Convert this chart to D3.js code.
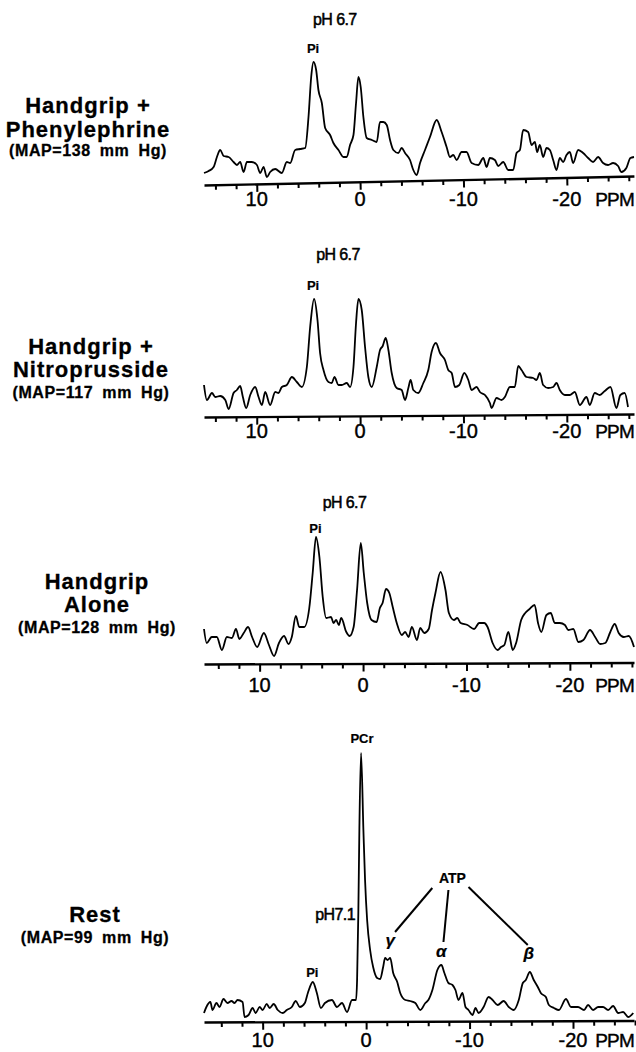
<!DOCTYPE html>
<html>
<head>
<meta charset="utf-8">
<script src="https://cdn.jsdelivr.net/npm/d3@7"></script>
<style>
  body { margin: 0; background: #fff; }
  svg text { font-family: "Liberation Sans", Arial, sans-serif; fill: #000; }
</style>
</head>
<body>
<div id="chart"></div>
<script>
// Spettri 31P: [ppm, intensita']
const phenylephrine = [
  [15.1,12],[14.65,14],[14.17,18],[13.85,28],[13.53,35],[13.2,29],[12.72,28],[12.24,23],[11.92,20],[11.6,23],
  [11.27,13],[10.95,23],[10.47,23],[9.98,20],[9.66,12],[9.34,18],[9.02,8],[8.7,13],[8.21,16],[7.57,12],
  [7.09,23],[6.76,22],[6.28,35],[5.8,36],[5.31,37],[4.99,68],[4.73,108],[4.51,123],[4.25,115],[4.03,95],
  [3.7,82],[3.38,57],[2.9,50],[2.58,42],[2.09,35],[1.61,28],[1.29,28],[0.97,40],[0.64,50],[0.39,82],
  [0.16,108],[-0.06,98],[-0.32,68],[-0.64,47],[-1.13,45],[-1.61,43],[-1.93,63],[-2.25,63],[-2.58,60],[-2.9,45],
  [-3.22,35],[-3.7,32],[-4.02,37],[-4.35,32],[-4.83,25],[-5.15,15],[-5.47,10],[-5.8,22],[-6.28,35],[-6.76,48],
  [-7.41,65],[-7.89,53],[-8.37,38],[-8.69,28],[-9.02,30],[-9.34,25],[-9.82,33],[-10.3,33],[-10.79,22],[-11.43,20],
  [-11.92,27],[-12.24,18],[-12.56,27],[-13.04,25],[-13.36,19],[-13.85,23],[-14.33,15],[-14.81,15],[-15.14,32],[-15.46,35],
  [-15.78,55],[-16.26,53],[-16.59,40],[-16.91,43],[-17.13,33],[-17.39,40],[-17.71,28],[-18.04,37],[-18.36,35],[-18.68,25],
  [-19.0,15],[-19.32,27],[-19.65,23],[-19.97,30],[-20.29,33],[-20.61,22],[-21.1,35],[-21.58,32],[-22.06,27],[-22.54,23],
  [-23.03,28],[-23.51,22],[-23.99,20],[-24.48,22],[-24.96,19],[-25.28,13],[-25.76,17],[-26.15,27],[-26.5,28]
];

const nitroprusside = [
  [15.1,32],[14.82,17],[14.33,24],[14.01,20],[13.53,21],[13.04,17],[12.72,8],[12.24,24],[11.92,27],[11.6,31],
  [11.34,20],[11.02,9],[10.63,22],[10.15,30],[9.82,20],[9.5,12],[9.18,25],[8.7,12],[8.21,25],[7.89,24],
  [7.57,30],[7.09,32],[6.6,40],[6.12,35],[5.64,30],[5.15,50],[4.83,90],[4.45,118],[4.12,97],[3.87,64],
  [3.54,47],[3.06,35],[2.74,34],[2.48,40],[2.09,32],[1.77,32],[1.29,34],[0.97,30],[0.64,50],[0.39,94],
  [0.16,118],[-0.16,107],[-0.48,70],[-0.8,40],[-1.13,30],[-1.61,50],[-1.93,67],[-2.19,71],[-2.48,79],[-2.74,67],
  [-3.06,44],[-3.54,29],[-4.02,27],[-4.35,17],[-4.67,29],[-4.89,37],[-5.15,27],[-5.63,24],[-6.12,34],[-6.6,47],
  [-6.92,65],[-7.34,74],[-7.73,64],[-8.21,57],[-8.53,47],[-8.86,44],[-9.18,30],[-9.6,32],[-10.08,44],[-10.47,37],
  [-10.79,27],[-11.27,30],[-11.59,25],[-12.08,22],[-12.56,14],[-12.72,9],[-13.2,19],[-13.69,17],[-14.01,20],[-14.49,30],
  [-14.97,30],[-15.3,51],[-15.62,47],[-16.1,40],[-16.75,39],[-17.07,37],[-17.39,44],[-17.71,32],[-18.2,29],[-18.68,30],
  [-19.0,34],[-19.32,27],[-19.81,22],[-20.29,22],[-20.77,25],[-21.26,12],[-21.9,20],[-22.22,12],[-22.7,24],[-23.19,22],
  [-23.67,26],[-24.22,30],[-24.8,9],[-25.18,22],[-25.6,24],[-25.92,10]
];

const handgripAlone = [
  [15.38,35],[15.12,21],[14.63,27],[14.14,27],[13.65,14],[13.17,27],[12.68,26],[12.29,35],[11.96,25],[11.54,31],
  [11.12,37],[10.73,27],[10.24,17],[9.59,31],[9.1,19],[8.61,8],[8.13,21],[7.64,28],[7.21,20],[6.89,27],
  [6.5,48],[6.17,37],[5.69,37],[5.2,56],[4.87,91],[4.55,127],[4.22,107],[3.9,67],[3.57,46],[3.09,47],
  [2.86,41],[2.6,44],[2.34,39],[2.11,46],[1.62,32],[1.3,28],[0.91,37],[0.58,74],[0.22,121],[-0.07,91],
  [-0.4,61],[-0.82,44],[-1.31,42],[-1.63,56],[-1.89,61],[-2.22,75],[-2.54,71],[-2.87,57],[-3.26,41],[-3.75,29],
  [-4.07,32],[-4.4,27],[-4.72,37],[-5.21,24],[-5.53,36],[-5.92,31],[-6.35,35],[-6.67,54],[-7.0,71],[-7.49,92],
  [-7.97,74],[-8.3,51],[-8.79,44],[-9.11,46],[-9.44,41],[-10.09,39],[-10.74,35],[-11.23,41],[-11.71,41],[-12.04,37],
  [-12.53,21],[-13.01,14],[-13.34,17],[-13.66,19],[-14.05,32],[-14.48,14],[-14.8,21],[-15.29,44],[-15.68,51],[-16.1,55],
  [-16.59,59],[-16.92,41],[-17.24,32],[-17.73,49],[-18.15,51],[-18.54,41],[-19.03,41],[-19.52,39],[-19.84,34],[-20.33,35],
  [-20.82,22],[-21.31,24],[-21.95,34],[-22.44,27],[-22.93,20],[-23.42,21],[-23.91,32],[-24.33,40],[-24.72,31],[-25.21,27],
  [-25.7,28],[-26.2,17]
];

const rest = [
  [15.67,9],[15.44,15],[15.05,20],[14.85,12],[14.47,19],[14.17,15],[13.79,23],[13.4,19],[13.01,21],[12.72,19],
  [12.43,22],[11.94,20],[11.75,5],[11.36,7],[10.97,14],[10.68,9],[10.29,15],[10.0,12],[9.61,18],[9.32,14],
  [8.93,18],[8.54,12],[8.06,9],[7.67,12],[7.18,15],[6.8,21],[6.41,15],[5.92,19],[5.63,29],[5.15,40],
  [4.76,29],[4.37,14],[3.98,19],[3.3,22],[2.82,15],[2.33,19],[1.84,10],[1.36,22],[0.97,22],[0.87,42],
  [0.75,109],[0.65,192],[0.49,269],[0.26,192],[0.1,142],[-0.1,102],[-0.39,72],[-0.68,55],[-1.07,44],[-1.36,43],
  [-1.65,55],[-1.84,64],[-2.07,62],[-2.33,64],[-2.62,49],[-3.01,40],[-3.3,29],[-3.79,22],[-4.27,21],[-4.76,19],
  [-5.24,12],[-5.73,19],[-6.02,22],[-6.41,32],[-6.89,52],[-7.28,57],[-7.57,49],[-7.96,39],[-8.35,37],[-8.64,32],
  [-8.93,22],[-9.32,29],[-9.61,15],[-9.9,12],[-10.29,7],[-10.58,14],[-10.87,9],[-11.36,15],[-11.84,25],[-12.23,22],
  [-12.72,17],[-13.3,21],[-13.79,15],[-14.27,12],[-14.76,22],[-15.15,39],[-15.44,42],[-15.83,50],[-16.21,42],[-16.6,35],
  [-16.89,29],[-17.38,25],[-17.67,17],[-18.16,14],[-18.64,12],[-19.32,23],[-19.81,15],[-20.49,15],[-21.07,12],[-21.46,17],
  [-21.94,12],[-22.43,15],[-22.91,15],[-23.4,12],[-23.88,16],[-24.37,9],[-24.85,10],[-25.34,5],[-25.83,9]
];

// Assi
const majorTicks = [10, 0, -10, -20];
const minorTicks = d3.range(14, -27, -2);

// Etichette dei pannelli
const titles = [
  ["Handgrip +", "Phenylephrine", "(MAP=138 mm Hg)"],
  ["Handgrip +", "Nitroprusside", "(MAP=117 mm Hg)"],
  ["Handgrip", "Alone", "(MAP=128 mm Hg)"],
  ["Rest", "(MAP=99 mm Hg)"]
];

const width = 636;
const height = 1052;

// Impaginazione dei quattro pannelli
const panels = [
  { data: phenylephrine, domain: [15.1, -26.5], axisY: 185, tilt: -1.19, labelY: 206,
    titleX: 88, titleY: [113, 137, 156],
    notes: [{ t: "pH 6.7", ppm: 4.55, y: 25, cls: "ph", anchor: "start" },
            { t: "Pi", ppm: 4.55, y: 53, cls: "pk", anchor: "middle" }] },
  { data: nitroprusside, domain: [15.1, -26.5], axisY: 417, tilt: -0.4, labelY: 438,
    titleX: 91, titleY: [354, 377, 398],
    notes: [{ t: "pH 6.7", ppm: 4.25, y: 260, cls: "ph", anchor: "start" },
            { t: "Pi", ppm: 4.55, y: 290, cls: "pk", anchor: "middle" }] },
  { data: handgripAlone, domain: [15.38, -26.2], axisY: 664, tilt: -0.2, labelY: 692,
    titleX: 97, titleY: [589, 612, 633],
    notes: [{ t: "pH 6.7", ppm: 3.9, y: 508, cls: "ph", anchor: "start" },
            { t: "Pi", ppm: 4.6, y: 533, cls: "pk", anchor: "middle" }] },
  { data: rest, domain: [15.67, -25.9], axisY: 1022, tilt: -0.2, labelY: 1047,
    titleX: 95, titleY: [922, 943],
    notes: [{ t: "PCr", ppm: 0.4, y: 743, cls: "pk", anchor: "middle" },
            { t: "pH7.1", ppm: 1.07, y: 920, cls: "ph", anchor: "end" },
            { t: "Pi", ppm: 5.2, y: 977, cls: "pk", anchor: "middle" },
            { t: "ATP", ppm: -8.35, y: 883, cls: "atp", anchor: "middle" },
            { t: "γ", ppm: -2.33, y: 946, cls: "greek", anchor: "middle" },
            { t: "α", ppm: -7.28, y: 957, cls: "greek", anchor: "middle" },
            { t: "β", ppm: -15.73, y: 959, cls: "greek", anchor: "middle" }],
    leaders: [[-6.4, 888, -2.8, 932], [-7.96, 890, -7.48, 942], [-9.9, 887, -15.63, 945]] }
];

const svg = d3.select("#chart")
  .append("svg")
  .attr("width", width)
  .attr("height", height);

panels.forEach((p, i) => {
  const g = svg.append("g");

  const x = d3.scaleLinear().domain(p.domain).range([204, 634]);
  const y = d3.scaleLinear().domain([0, 100]).range([p.axisY, p.axisY - 100]);

  // Spettro
  const line = d3.line()
    .x(d => x(d[0]))
    .y(d => y(d[1]))
    .curve(d3.curveMonotoneX);

  g.append("path")
    .datum(p.data)
    .attr("fill", "none")
    .attr("stroke", "#000")
    .attr("stroke-width", 1.8)
    .attr("stroke-linejoin", "round")
    .attr("d", line);

  // Asse ppm (leggermente inclinato come nella stampa)
  const ax = g.append("g")
    .attr("transform", `translate(0,${p.axisY}) rotate(${p.tilt},204,0)`)
    .call(d3.axisBottom(x).tickValues(minorTicks).tickSize(5).tickSizeOuter(0).tickFormat(""));
  ax.select(".domain").attr("stroke-width", 2.4);
  ax.selectAll(".tick line")
    .attr("stroke-width", 2)
    .attr("y2", d => majorTicks.includes(d) ? 8 : 5);

  g.selectAll(".ticklab")
    .data(majorTicks)
    .join("text")
    .attr("class", "ticklab")
    .attr("x", d => x(d))
    .attr("y", p.labelY)
    .attr("text-anchor", "middle")
    .attr("font-size", 20)
    .attr("stroke", "#000")
    .attr("stroke-width", 0.4)
    .text(d => String(d));

  g.append("text")
    .attr("x", 634)
    .attr("y", p.labelY)
    .attr("text-anchor", "end")
    .attr("font-size", 19)
    .attr("letter-spacing", -0.8)
    .attr("stroke", "#000")
    .attr("stroke-width", 0.4)
    .text("PPM");

  // Titolo a sinistra
  g.selectAll(".title")
    .data(titles[i])
    .join("text")
    .attr("class", "title")
    .attr("x", p.titleX)
    .attr("y", (d, j) => p.titleY[j])
    .attr("text-anchor", "middle")
    .attr("font-weight", "bold")
    .attr("font-size", d => d.startsWith("(") ? 16 : 22)
    .attr("letter-spacing", d => d.startsWith("(") ? 0.6 : 1)
    .attr("word-spacing", d => d.startsWith("(") ? 4 : 0)
    .attr("stroke", "#000")
    .attr("stroke-width", 0.3)
    .text(d => d);

  // Annotazioni dei picchi
  const sizes = { ph: 16, pk: 13, atp: 14, greek: 17 };
  g.selectAll(".note")
    .data(p.notes)
    .join("text")
    .attr("class", "note")
    .attr("x", d => x(d.ppm))
    .attr("y", d => d.y)
    .attr("text-anchor", d => d.anchor)
    .attr("font-size", d => sizes[d.cls])
    .attr("font-weight", d => d.cls === "ph" ? "normal" : "bold")
    .attr("font-style", d => d.cls === "greek" ? "italic" : "normal")
    .attr("letter-spacing", d => d.cls === "ph" ? -0.6 : 0)
    .attr("stroke", "#000")
    .attr("stroke-width", d => d.cls === "ph" ? 0.5 : 0.2)
    .text(d => d.t);

  if (p.leaders) {
    g.selectAll(".leader")
      .data(p.leaders)
      .join("line")
      .attr("class", "leader")
      .attr("x1", d => x(d[0]))
      .attr("y1", d => d[1])
      .attr("x2", d => x(d[2]))
      .attr("y2", d => d[3])
      .attr("stroke", "#000")
      .attr("stroke-width", 2);
  }
});
</script>
</body>
</html>
